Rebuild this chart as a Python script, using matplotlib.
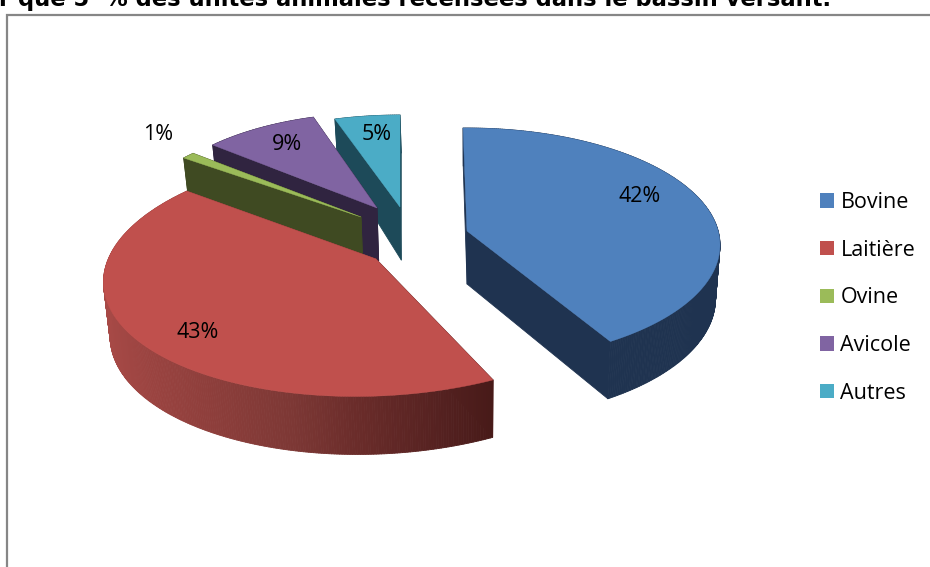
import numpy as np
import matplotlib
matplotlib.use("Agg")
import matplotlib.pyplot as plt
from matplotlib.collections import PolyCollection
from matplotlib.patches import Patch
from matplotlib.colors import to_rgb

categories = ["Bovine", "Laitière", "Ovine", "Avicole", "Autres"]
values = [42, 43, 1, 9, 5]
title_text = "r que 5  % des unités animales recensées dans le bassin versant."

top_colors = ["#4F81BD", "#C0504D", "#9BBB59", "#8064A2", "#4BACC6"]
wall_colors = ["#1F3350", None, "#3F4A22", "#302440", "#1D4A59"]
# projection / style of each exploded slice
apex = [(467, 231), (376, 259), (361, 217), (377, 208), (400, 207)]
scale = [(0.985, 1.03), (1.05, 1.08), (0.92, 0.96), (0.9, 0.95), (0.92, 0.92)]
shear = [0, -0.15, 0, 0, 0]
angle_adj = [(-1, -2), (2, 1), (0, 0), (0, 0), (0, 0)]
label_xy = [(640, 197), (198, 332), (158, 134), (287, 145), (377, 134)]
RX, RY, PERSP = 255, 112, 0.12
VANISH_X, SHRINK = 470, 0.018

def height(v):
    return 53 - 5 * v if v < 0 else 53 - 15 * v

def outline(i, a0, a1):
    th = np.radians(np.linspace(a0, a1, max(int(a1 - a0) * 2, 6)))
    u, v = np.sin(th), np.cos(th)
    d = 1 + PERSP * v
    ax0, ay0 = apex[i]
    dy = -scale[i][1] * RY * v / d
    xs = ax0 + scale[i][0] * RX * u / d + shear[i] * dy
    ys = ay0 + dy
    pts = [(ax0, ay0)] + list(zip(xs, ys))
    hs = [height(0)] + [height(t) for t in v]
    return np.array(pts), np.array(hs)

red_x = [100, 150, 290, 357, 450, 495]
red_c = ["#A84A47", "#9A4340", "#7D3835", "#6A2C2A", "#52201F", "#471A18"]
red_rgb = np.array([to_rgb(c) for c in red_c])

def red_gradient(x):
    return [np.interp(x, red_x, red_rgb[:, k]) for k in range(3)]

def lower(p, h):
    return (p[0] - SHRINK * (p[0] - VANISH_X), p[1] + h)

fig = plt.figure(figsize=(9.3, 5.67), dpi=100)
ax = fig.add_axes([0, 0, 1, 1])
ax.set_xlim(0, 930)
ax.set_ylim(567, 0)
ax.axis("off")

# chart frame (right and bottom sides are cropped in the reference)
ax.plot([6.5, 6.5, 930], [567, 14.5, 14.5], color="#868686", lw=1.6, solid_joinstyle="miter")

shares = np.array(values) / sum(values) * 360
starts = np.concatenate([[0], np.cumsum(shares)[:-1]])
for i in [4, 3, 2, 1, 0]:
    a0 = starts[i] + angle_adj[i][0]
    a1 = starts[i] + shares[i] + angle_adj[i][1]
    pts, hs = outline(i, a0, a1)
    quads, cols = [], []
    n = len(pts)
    for j in range(n):
        k = (j + 1) % n
        p, q = pts[j], pts[k]
        quads.append([p, q, lower(q, hs[k]), lower(p, hs[j])])
        mx = (p[0] + q[0]) / 2
        cols.append(red_gradient(mx) if i == 1 else to_rgb(wall_colors[i]))
    ax.add_collection(PolyCollection(quads, facecolors=cols, edgecolors=cols, linewidths=0.6))
    ax.fill(pts[:, 0], pts[:, 1], color=top_colors[i], lw=0.3)

for xy, val in zip(label_xy, values):
    ax.text(xy[0], xy[1], f"{val}%", ha="center", va="center", fontsize=15.5,
            family="Open Sans", color="black")

handles = [Patch(facecolor=c, edgecolor="none", label=n) for n, c in zip(categories, top_colors)]
ax.legend(handles=handles, loc="upper left", bbox_to_anchor=(820 / 930, 1 - 192 / 567),
          bbox_transform=ax.transAxes, frameon=False, borderpad=0, borderaxespad=0,
          prop={"family": "Open Sans", "size": 15.5}, labelspacing=1.24, handlelength=0.65,
          handleheight=0.65, handletextpad=0.3)

ax.text(-1, 6, title_text, ha="left", va="baseline", fontsize=16.3, fontweight="bold",
        family="DejaVu Sans", color="black", clip_on=False)

fig.savefig("out.png", dpi=100)
